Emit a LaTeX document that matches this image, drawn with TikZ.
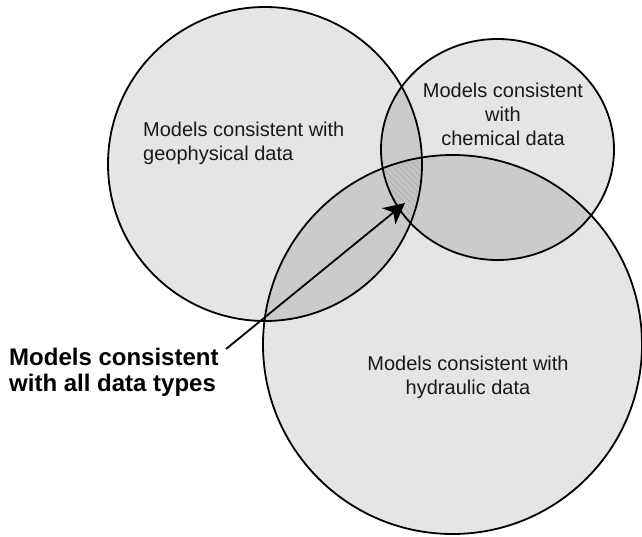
\documentclass[tikz,border=0pt]{standalone}
\usepackage{fontspec}
\setmainfont{Liberation Sans}
\usetikzlibrary{arrows.meta}
\definecolor{vsingle}{HTML}{E5E5E5}
\definecolor{vdouble}{HTML}{CBCBCB}
\definecolor{vtriple}{HTML}{C4C4C4}
\definecolor{vhatch}{HTML}{A8A8A8}
\begin{document}
\begin{tikzpicture}[x=1pt,y=-1pt,
  ring/.style={draw=black, line width=1.8pt},
  lbl/.style={font=\fontsize{20}{24}\selectfont, inner sep=0pt, text=black!90},
  boldlbl/.style={font=\fontsize{24}{26}\selectfont\bfseries, inner sep=0pt},
  pointer/.style={draw=black, line width=1.8pt, -{Stealth[length=21pt,width=21pt,inset=6pt]}}]
\useasboundingbox (0,0) rectangle (642,536);
\fill[white] (0,0) rectangle (642,536);
\def\geo{(265,164) circle[radius=157]}
\def\chem{(497.5,149.5) ellipse[x radius=116.5,y radius=110.5]}
\def\hyd{(452.5,344.5) circle[radius=189.5]}
% single fills
\fill[vsingle] \geo;
\fill[vsingle] \chem;
\fill[vsingle] \hyd;
% pairwise overlaps
\begin{scope}\clip \geo; \fill[vdouble] \chem; \fill[vdouble] \hyd; \end{scope}
\begin{scope}\clip \chem; \fill[vdouble] \hyd; \end{scope}
% triple overlap with hatching
\begin{scope}
  \clip \geo; \clip \chem; \clip \hyd;
  \fill[vtriple] (370,150) rectangle (430,240);
  \foreach \k in {-30,...,20} {
    \draw[vhatch, line width=0.45pt] (370+6*\k,150) -- (470+6*\k,250);
  }
\end{scope}
% outlines
\draw[ring] \geo;
\draw[ring] \chem;
\draw[ring] \hyd;
% labels
\node[lbl, align=left, anchor=north west] (geotext) at (143,122) {Models consistent with\\geophysical data};
\node[lbl, align=center, anchor=north] (chemtext) at (503,83) {Models consistent\\with\\chemical data};
\node[lbl, align=center, anchor=north] (hydtext) at (468,356) {Models consistent with\\hydraulic data};
\node[boldlbl, align=left, anchor=north west] (alltext) at (9,348) {Models consistent\\with all data types};
% pointer
\coordinate (pstart) at (226,349);
\coordinate (ptip) at (405,203);
\draw[pointer] (pstart) -- (ptip);
\end{tikzpicture}
\end{document}
